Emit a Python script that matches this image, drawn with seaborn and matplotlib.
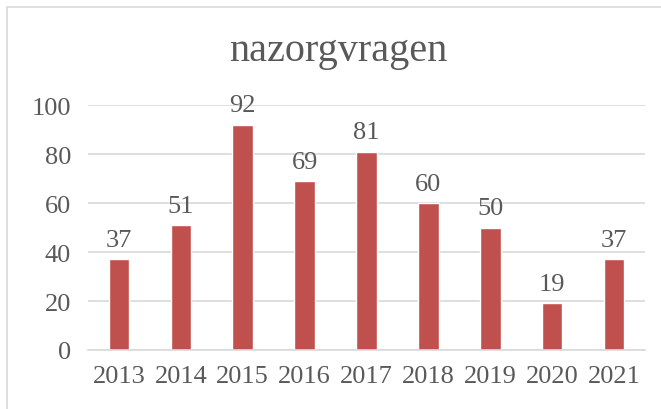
import matplotlib.pyplot as plt
import seaborn as sns
from matplotlib.patches import Rectangle

# Chart data
years = ['2013', '2014', '2015', '2016', '2017', '2018', '2019', '2020', '2021']
counts = [37, 51, 92, 69, 81, 60, 50, 19, 37]

bar_color = '#C0504D'
text_color = '#595959'

sns.set_theme(style='white')
plt.rcParams['font.family'] = ['Liberation Serif', 'DejaVu Serif']

fig = plt.figure(figsize=(6.61, 4.10), dpi=100)
ax = fig.add_axes([0.133, 0.144, 0.843, 0.597])

sns.barplot(x=years, y=counts, color=bar_color, width=0.33,
            saturation=1, ax=ax)

# Value labels above the bars
for container in ax.containers:
    ax.bar_label(container, padding=6, fontsize=19, color=text_color)

ax.set_ylim(0, 100)
ax.set_yticks(range(0, 101, 20))
ax.yaxis.grid(True, color='#D9D9D9', linewidth=1.2)
ax.set_axisbelow(True)
for side in ['top', 'right', 'left']:
    ax.spines[side].set_visible(False)
ax.spines['bottom'].set_color('#D9D9D9')
ax.spines['bottom'].set_linewidth(1.2)
ax.tick_params(axis='both', length=0, labelsize=19, colors=text_color)
ax.tick_params(axis='x', pad=11)
ax.tick_params(axis='y', pad=12)
ax.set_xlabel('')
ax.set_ylabel('')

fig.text(0.512, 0.875, 'nazorgvragen', ha='center', va='center',
         fontsize=29, color=text_color)

# Light frame around the chart
fig.patches.append(Rectangle((0.011, -0.05), 1.1, 1.03, transform=fig.transFigure,
                             fill=False, edgecolor='#D9D9D9', linewidth=1.2))

fig.savefig('out.png', dpi=100)
